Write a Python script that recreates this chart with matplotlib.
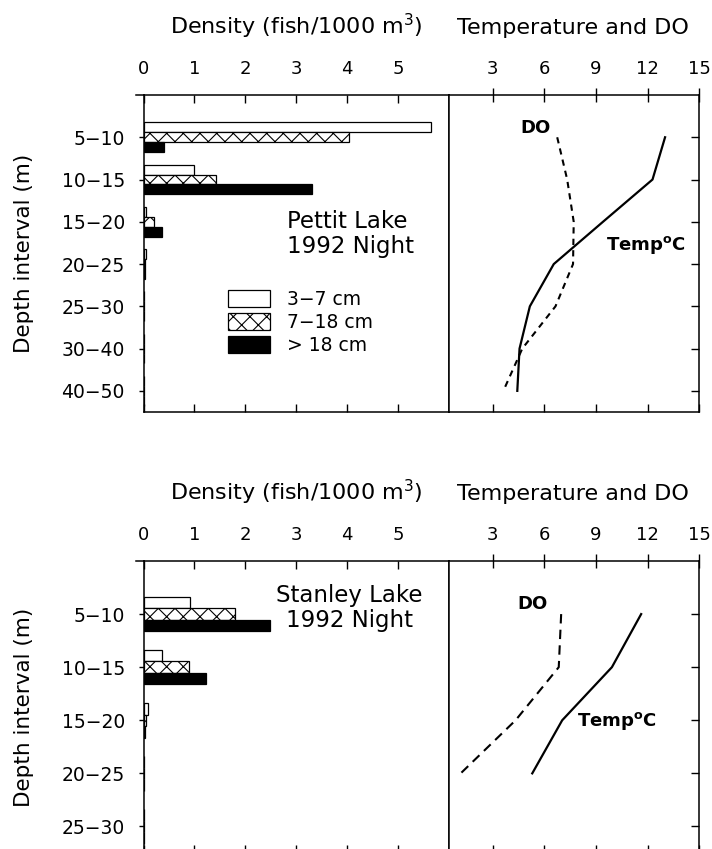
import matplotlib
matplotlib.use("Agg")
import matplotlib.pyplot as plt
from matplotlib.lines import Line2D

plt.rcParams['font.family'] = ['DejaVu Sans']
plt.rcParams['hatch.linewidth'] = 0.8
plt.rcParams['hatch.color'] = 'black'

# ---------------- data ----------------
size_classes = ['3\u22127 cm', '7\u221218 cm', '> 18 cm']

pettit_depths = ['5\u221210', '10\u221215', '15\u221220', '20\u221225', '25\u221230', '30\u221240', '40\u221250']
pettit_small = [5.64, 0.99, 0.04, 0.05, 0.0, 0.0, 0.0]
pettit_mid = [4.04, 1.43, 0.20, 0.03, 0.0, 0.0, 0.0]
pettit_large = [0.41, 3.31, 0.36, 0.02, 0.0, 0.0, 0.0]
pettit_temp = [13.01, 12.28, 9.40, 6.54, 5.15, 4.55, 4.42]
pettit_do = [6.74, 7.32, 7.70, 7.66, 6.64, 4.71, 3.61]

stanley_depths = ['5\u221210', '10\u221215', '15\u221220', '20\u221225', '25\u221230']
stanley_small = [0.91, 0.36, 0.09, 0.0, 0.0]
stanley_mid = [1.80, 0.89, 0.05, 0.0, 0.0]
stanley_large = [2.49, 1.23, 0.03, 0.0, 0.0]
stanley_temp = [11.62, 9.92, 7.03, 5.29]
stanley_do = [6.97, 6.83, 4.32, 1.13]

density_ticks = [0, 1, 2, 3, 4, 5]
env_ticks = [3, 6, 9, 12, 15]

# ---------------- figure ----------------
W, H = 712, 849
fig = plt.figure(figsize=(W / 100, H / 100), dpi=100)


def fx(px):
    return px / W


def fy(py):
    return 1 - py / H


def make_panel(top_px, bot_px, depths, small, mid, large, temp, do, bar_h,
               lake_text, lake_xy, lake_ha, do_xy, temp_xy, legend, do_dash):
    xl0, xdiv, xr1 = 143.5, 449.0, 699.3
    axL = fig.add_axes([fx(xl0), fy(bot_px), fx(xdiv - xl0), (bot_px - top_px) / H])
    axR = fig.add_axes([fx(xdiv), fy(bot_px), fx(xr1 - xdiv), (bot_px - top_px) / H])
    n = len(depths)
    pos = list(range(1, n + 1))
    ylim = (n + 0.5, 0.0)

    # bars
    axL.barh([p - bar_h for p in pos], small, height=bar_h, color='white',
             edgecolor='black', linewidth=0.9, label=size_classes[0])
    axL.barh(pos, mid, height=bar_h, color='white', edgecolor='black',
             linewidth=0.9, hatch='xx', label=size_classes[1])
    axL.barh([p + bar_h for p in pos], large, height=bar_h, color='black',
             edgecolor='black', linewidth=0.9, label=size_classes[2])
    axL.set_xlim(0, 6)
    axL.set_ylim(*ylim)
    axL.set_yticks(pos)
    axL.set_yticklabels(depths, fontsize=13.5)
    axL.set_xticks(density_ticks)
    axL.set_xticklabels([str(t) for t in density_ticks], fontsize=13)
    axL.tick_params(axis='x', which='both', top=True, bottom=True,
                    labeltop=True, labelbottom=False)
    axL.tick_params(axis='x', which='major', direction='in', length=5.5, width=1)
    for t in axL.xaxis.get_major_ticks():
        t.tick2line.set_marker('|')
        t.tick2line.set_markersize(9.5)
        t.tick2line.set_markeredgewidth(1)
    axL.tick_params(axis='x', pad=12)
    axL.tick_params(axis='y', which='both', left=True, right=True, width=1)
    for t in axL.yaxis.get_major_ticks():
        t.tick1line.set_marker(0)
        t.tick1line.set_markersize(5)
        t.tick2line.set_marker(0)
        t.tick2line.set_markersize(5)
    axL.tick_params(axis='y', pad=10)
    axL.set_ylabel('Depth interval (m)', fontsize=15.5, labelpad=20)
    for s in axL.spines.values():
        s.set_linewidth(1.1)

    axL.text(lake_xy[0], lake_xy[1], lake_text, fontsize=16.5, ha=lake_ha,
             va='center', linespacing=1.1,
             multialignment='center' if lake_ha == 'center' else 'left')

    if legend:
        axL.legend(loc='upper left', bbox_to_anchor=(0.278, 0.385), frameon=False,
                   fontsize=13.5, handlelength=2.2, handleheight=1.05,
                   labelspacing=0.2, handletextpad=0.9, borderpad=0,
                   borderaxespad=0)

    # environment panel
    axR.plot(temp, pos[:len(temp)], color='black', linewidth=1.6)
    axR.plot(do, pos[:len(do)], color='black', linewidth=1.5,
             linestyle=(0, do_dash))
    axR.set_xlim(0.45, 15)
    axR.set_ylim(*ylim)
    axR.set_xticks(env_ticks)
    axR.set_xticklabels([str(t) for t in env_ticks], fontsize=13)
    axR.tick_params(axis='x', which='both', top=True, bottom=True,
                    labeltop=True, labelbottom=False, direction='in',
                    length=5.5, width=1, pad=12)
    for t in axR.xaxis.get_major_ticks():
        t.tick2line.set_marker('|')
        t.tick2line.set_markersize(9.5)
        t.tick2line.set_markeredgewidth(1)
    axR.set_yticks(pos)
    axR.tick_params(axis='y', left=False, right=True, labelleft=False,
                    direction='in', length=5.5, width=1)
    for s in axR.spines.values():
        s.set_linewidth(1.1)
    axR.text(do_xy[0], do_xy[1], 'DO', fontsize=13, fontweight='bold',
             ha='center', va='center')
    axR.text(temp_xy[0], temp_xy[1], r'Temp$^{\mathbf{o}}$C', fontsize=13,
             fontweight='bold', ha='center', va='center')

    # panel titles placed above the tick labels
    title_base = top_px - 61
    fig.text(fx((xl0 + xdiv) / 2), fy(title_base), 'Density (fish/1000 m$^{3}$)',
             fontsize=16, ha='center', va='baseline')
    fig.text(fx((xdiv + xr1) / 2 - 1), fy(title_base), 'Temperature and DO',
             fontsize=16, ha='center', va='baseline')

    fig.add_artist(Line2D([fx(136), fx(xl0)], [fy(top_px), fy(top_px)],
                          color='black', linewidth=1.1))
    return axL, axR


make_panel(95, 412, pettit_depths, pettit_small, pettit_mid, pettit_large,
           pettit_temp, pettit_do, 0.235,
           'Pettit Lake\n1992 Night', (2.81, 3.28), 'left',
           (5.48, 0.78), (11.86, 3.54), True, (3, 2.5))

make_panel(561, 853, stanley_depths, stanley_small, stanley_mid, stanley_large,
           stanley_temp, stanley_do, 0.217,
           'Stanley Lake\n1992 Night', (4.05, 0.88), 'center',
           (5.29, 0.81), (10.2, 3.01), False, (4.5, 3))

fig.savefig('out.png', dpi=100)
